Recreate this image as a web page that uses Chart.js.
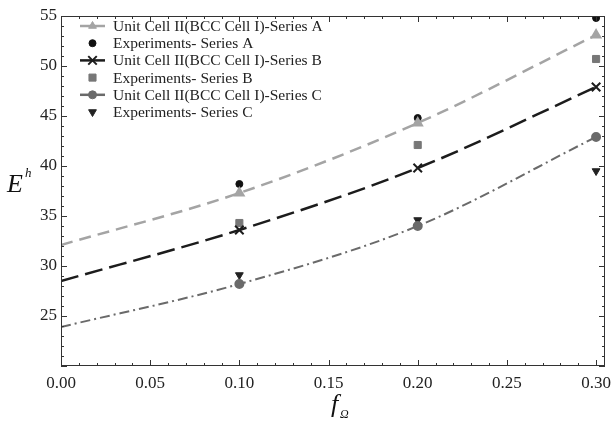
<!DOCTYPE html>
<html>
<head>
<meta charset="utf-8">
<script src="https://cdn.jsdelivr.net/npm/chart.js@4.4.1/dist/chart.umd.min.js"></script>
<style>
html, body { margin: 0; padding: 0; background: #fff; }
#wrap { width: 613px; height: 421px; }
</style>
</head>
<body>
<div id="wrap"><canvas id="myChart" width="613" height="421"></canvas></div>
<script>
// valori
var fOmega = [0, 0.1, 0.2, 0.3];
var fExp = [0.1, 0.2, 0.3];
var modelA = [32.1, 37.3, 44.3, 53.1];
var modelB = [28.5, 33.6, 39.8, 47.9];
var modelC = [23.9, 28.2, 34.0, 42.9];
var expA = [38.2, 44.8, 54.8];
var expB = [34.3, 42.1, 50.7];
var expC = [29.1, 34.6, 39.5];
var xTicks = [0, 0.05, 0.10, 0.15, 0.20, 0.25, 0.30];
var yTicks = [25, 30, 35, 40, 45, 50, 55];
var names = [
    'Unit Cell II(BCC Cell I)-Series A',
    'Experiments- Series A',
    'Unit Cell II(BCC Cell I)-Series B',
    'Experiments- Series B',
    'Unit Cell II(BCC Cell I)-Series C',
    'Experiments- Series C'
];

var SERIF = '"Liberation Serif", "Times New Roman", serif';

function pts(xs, ys) {
    var out = [];
    for (var i = 0; i < xs.length; i++) {
        out.push({x: xs[i], y: ys[i]});
    }
    return out;
}

// plugin per cornice, tacche interne, legenda e titoli assi
var decor = {
    id: 'decor',
    afterDraw: function(chart) {
        var ctx = chart.ctx;
        var a = chart.chartArea;
        var xs = chart.scales.x, ys = chart.scales.y;
        ctx.save();
        ctx.strokeStyle = '#333';
        ctx.lineWidth = 1;
        ctx.strokeRect(a.left + 0.5, a.top + 0.5, a.right - a.left - 1, a.bottom - a.top - 1);

        ctx.beginPath();
        for (var v = 20; v <= 55; v++) {
            var py = Math.round(ys.getPixelForValue(v)) + 0.5;
            var len = (v % 5 === 0) ? 6 : 3;
            ctx.moveTo(a.left, py); ctx.lineTo(a.left + len, py);
            ctx.moveTo(a.right, py); ctx.lineTo(a.right - len, py);
        }
        for (var i = 0; i <= 30; i++) {
            var px = Math.round(xs.getPixelForValue(i / 100)) + 0.5;
            var l2 = (i % 5 === 0) ? 6 : 3;
            ctx.moveTo(px, a.bottom); ctx.lineTo(px, a.bottom - l2);
            ctx.moveTo(px, a.top); ctx.lineTo(px, a.top + l2);
        }
        ctx.stroke();

        // legenda
        var ds = chart.data.datasets;
        ctx.font = '15.5px ' + SERIF;
        ctx.textBaseline = 'middle';
        ctx.textAlign = 'left';
        for (var k = 0; k < ds.length; k++) {
            var d = ds[k];
            var ly = 26 + k * 17.2;
            if (d.showLine !== false) {
                ctx.beginPath();
                ctx.setLineDash([]);
                ctx.strokeStyle = d.borderColor;
                ctx.lineWidth = 2.5;
                ctx.moveTo(80, ly); ctx.lineTo(105, ly);
                ctx.stroke();
            }
            ctx.fillStyle = d.pointBackgroundColor;
            ctx.strokeStyle = d.pointBorderColor;
            ctx.lineWidth = d.pointBorderWidth || 1;
            Chart.helpers.drawPoint(ctx, {
                pointStyle: d.pointStyle,
                rotation: d.pointRotation || 0,
                radius: Array.isArray(d.pointRadius) ? d.pointRadius[1] : d.pointRadius,
                borderWidth: d.pointBorderWidth || 1
            }, 92.5, ly);
            ctx.fillStyle = '#222';
            ctx.fillText(d.label, 113, ly + 1);
        }

        // titoli assi
        ctx.fillStyle = '#111';
        ctx.textBaseline = 'alphabetic';
        ctx.font = 'italic 26px ' + SERIF;
        ctx.fillText('E', 7, 192);
        ctx.font = 'italic 13px ' + SERIF;
        ctx.fillText('h', 25, 177);
        ctx.font = 'italic 26px ' + SERIF;
        ctx.fillText('f', 331, 412);
        ctx.font = 'italic 12px ' + SERIF;
        ctx.fillText('\u03A9', 340, 418);
        ctx.restore();
    }
};

var ctx = document.getElementById('myChart').getContext('2d');
var myChart = new Chart(ctx, {
    type: 'line',
    data: {
        datasets: [{
            label: names[0],
            data: pts(fOmega, modelA),
            borderColor: '#a4a4a4',
            borderWidth: 2.5,
            borderDash: [12, 7],
            pointStyle: 'triangle',
            pointRadius: [0, 4.5, 4.5, 4.5],
            pointBackgroundColor: '#a4a4a4',
            pointBorderColor: '#a4a4a4',
            cubicInterpolationMode: 'monotone',
            fill: false
        }, {
            label: names[1],
            data: pts(fExp, expA),
            showLine: false,
            pointStyle: 'circle',
            pointRadius: 3.5,
            pointBackgroundColor: '#111',
            pointBorderColor: '#111'
        }, {
            label: names[2],
            data: pts(fOmega, modelB),
            borderColor: '#1c1c1c',
            borderWidth: 2.5,
            borderDash: [18, 7],
            pointStyle: 'crossRot',
            pointRadius: [0, 6, 6, 6],
            pointBorderWidth: 2,
            pointBackgroundColor: '#1c1c1c',
            pointBorderColor: '#1c1c1c',
            cubicInterpolationMode: 'monotone',
            fill: false
        }, {
            label: names[3],
            data: pts(fExp, expB),
            showLine: false,
            pointStyle: 'rect',
            pointRadius: 5,
            pointBackgroundColor: '#777',
            pointBorderColor: '#777'
        }, {
            label: names[4],
            data: pts(fOmega, modelC),
            borderColor: '#6a6a6a',
            borderWidth: 2,
            borderDash: [10, 4, 2, 4],
            pointStyle: 'circle',
            pointRadius: [0, 4, 4, 4],
            pointBackgroundColor: '#6a6a6a',
            pointBorderColor: '#6a6a6a',
            cubicInterpolationMode: 'monotone',
            fill: false
        }, {
            label: names[5],
            data: pts(fExp, expC),
            showLine: false,
            pointStyle: 'triangle',
            pointRotation: 180,
            pointRadius: 4.5,
            pointBackgroundColor: '#222',
            pointBorderColor: '#222'
        }]
    },
    options: {
        responsive: false,
        animation: false,
        devicePixelRatio: 1,
        layout: {padding: {top: 16, left: 0, right: 4, bottom: 0}},
        plugins: {
            legend: {display: false},
            tooltip: {enabled: false}
        },
        scales: {
            x: {
                type: 'linear',
                min: 0,
                max: 0.305,
                afterBuildTicks: function(s) {
                    s.ticks = xTicks.map(function(v) { return {value: v}; });
                },
                afterFit: function(s) {
                    s.height = 55;
                    s.paddingLeft = 0;
                    s.paddingRight = 0;
                },
                ticks: {
                    callback: function(v) { return Number(v).toFixed(2); },
                    font: {family: SERIF, size: 17},
                    color: '#222',
                    maxRotation: 0,
                    autoSkip: false,
                    padding: 7
                },
                grid: {display: false, drawTicks: false},
                border: {display: false}
            },
            y: {
                min: 20,
                max: 55,
                afterBuildTicks: function(s) {
                    s.ticks = yTicks.map(function(v) { return {value: v}; });
                },
                afterFit: function(s) {
                    s.width = 61;
                    s.paddingTop = 0;
                    s.paddingBottom = 0;
                },
                ticks: {
                    font: {family: SERIF, size: 17},
                    color: '#222',
                    padding: 4
                },
                grid: {display: false, drawTicks: false},
                border: {display: false}
            }
        }
    },
    plugins: [decor]
});
</script>
</body>
</html>
